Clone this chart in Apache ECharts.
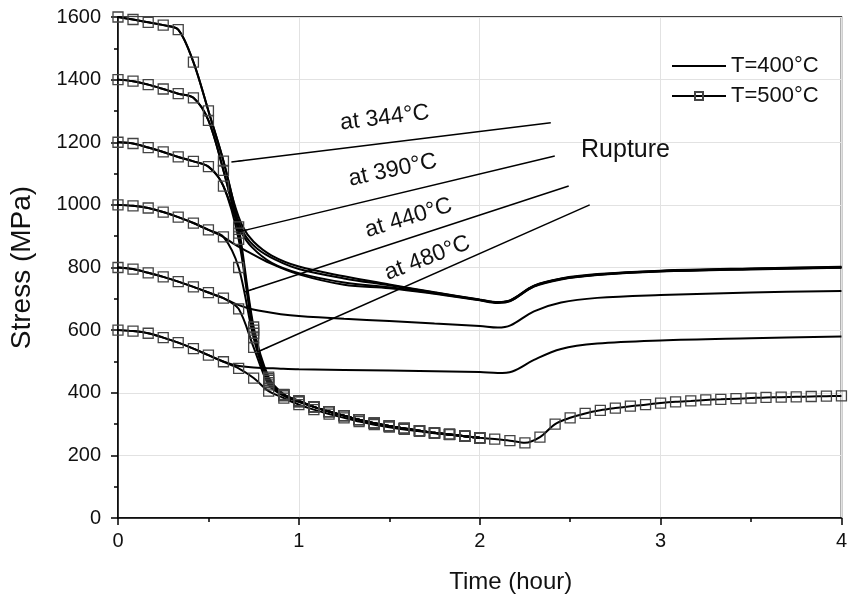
<!DOCTYPE html>
<html>
<head>
<meta charset="utf-8">
<script src="https://cdn.jsdelivr.net/npm/echarts@6/dist/echarts.min.js"></script>
<style>
html,body{margin:0;padding:0;background:#fff;}
#chart{width:850px;height:603px;}
</style>
</head>
<body>
<div id="chart"></div>
<script>
// ---- data ----
const xTicks = [0, 1, 2, 3, 4];
const yTicks = [0, 200, 400, 600, 800, 1000, 1200, 1400, 1600];

// time grid for T=500°C curves (hour)
const tGrid = [0, 0.083, 0.167, 0.25, 0.333, 0.417, 0.5, 0.583, 0.667, 0.75, 0.833, 0.917, 1,
  1.083, 1.167, 1.25, 1.333, 1.417, 1.5, 1.583, 1.667, 1.75, 1.833, 1.917, 2,
  2.083, 2.167, 2.25, 2.333, 2.417, 2.5, 2.583, 2.667, 2.75, 2.833, 2.917, 3,
  3.083, 3.167, 3.25, 3.333, 3.417, 3.5, 3.583, 3.667, 3.75, 3.833, 3.917, 4];

// T=500°C stress (MPa) at tGrid
const s500_600 = [600, 597, 590, 576, 560, 541, 520, 499, 478, 447, 405, 383, 362,
  346, 332, 320, 308, 298, 290, 283, 277, 271, 266, 261, 256,
  252, 247, 240, 258, 300, 320, 334, 344, 351, 357, 362, 367,
  371, 374, 377, 379, 381, 383, 385, 386, 387, 388, 389, 390];
const s500_800 = [800, 795, 783, 770, 755, 738, 720, 702, 668, 545, 425, 390, 371,
  355, 340, 327, 314, 303, 294, 286, 279, 272, 267, 261, 256];
const s500_1000 = [1000, 997, 990, 977, 961, 942, 920, 898, 800, 575, 432, 392, 372,
  355, 340, 327, 314, 303, 294, 286, 279, 272, 267, 261, 256];
const s500_1200 = [1200, 1196, 1183, 1169, 1153, 1139, 1122, 1060, 890, 590, 440, 393, 373,
  355, 340, 327, 314, 303, 294, 286, 279, 272, 267, 261, 256];
const s500_1400 = [1400, 1395, 1384, 1370, 1355, 1342, 1270, 1110, 910, 600, 445, 394, 374,
  355, 340, 327, 314, 303, 294, 286, 279, 272, 267, 261, 256];
const s500_1600 = [1600, 1592, 1583, 1574, 1560, 1456, 1300, 1140, 930, 610, 450, 395, 375,
  355, 340, 327, 314, 303, 294, 286, 279, 272, 267, 261, 256];

// T=400°C curves [time, stress]
const s400_1600 = [[0,1600],[0.083,1592],[0.167,1583],[0.25,1574],[0.333,1560],[0.417,1456],[0.5,1300],[0.583,1140],[0.64,1010],[0.69,930],[0.75,882],[0.85,838],[1.0,803],[1.25,772],[1.5,746],[1.75,721],[2.0,698],[2.1,690],[2.17,696],[2.3,742],[2.45,765],[2.65,779],[3.0,790],[3.5,797],[4.0,802]];
const s400_1400 = [[0,1400],[0.083,1395],[0.167,1384],[0.25,1370],[0.333,1355],[0.417,1342],[0.5,1270],[0.583,1110],[0.64,990],[0.7,905],[0.77,860],[0.87,825],[1.0,795],[1.25,765],[1.5,743],[1.75,720],[2.0,697],[2.1,689],[2.17,695],[2.3,741],[2.45,764],[2.65,778],[3.0,789],[3.5,796],[4.0,801]];
const s400_1200 = [[0,1200],[0.083,1196],[0.167,1183],[0.25,1169],[0.333,1153],[0.417,1139],[0.5,1122],[0.57,1075],[0.63,990],[0.68,915],[0.74,865],[0.85,815],[1.0,782],[1.25,752],[1.5,737],[1.75,718],[2.0,696],[2.1,688],[2.17,694],[2.3,740],[2.45,763],[2.65,777],[3.0,788],[3.5,795],[4.0,800]];
const s400_1000 = [[0,1000],[0.083,997],[0.167,990],[0.25,977],[0.333,961],[0.417,942],[0.5,920],[0.583,897],[0.65,872],[0.72,850],[0.84,814],[1.0,778],[1.25,745],[1.5,734],[1.75,716],[2.0,695],[2.1,687],[2.17,693],[2.3,739],[2.45,762],[2.65,776],[3.0,787],[3.5,794],[4.0,799]];
const s400_800 = [[0,800],[0.083,795],[0.167,783],[0.25,770],[0.333,755],[0.417,738],[0.5,720],[0.583,702],[0.65,684],[0.72,670],[0.8,660],[0.9,651],[1.0,645],[1.25,636],[1.5,629],[1.75,621],[2.0,613],[2.1,608],[2.17,615],[2.3,660],[2.45,688],[2.65,703],[3.0,712],[3.5,720],[4.0,725]];
const s400_600 = [[0,600],[0.083,597],[0.167,590],[0.25,576],[0.333,560],[0.417,541],[0.5,520],[0.583,500],[0.65,488],[0.75,481],[0.9,477],[1.0,475],[1.5,471],[2.0,466],[2.1,463],[2.18,468],[2.3,505],[2.45,540],[2.65,557],[3.0,567],[3.5,574],[4.0,580]];

// rupture arrows: [tail time, tail stress, tip time, tip stress]
const arrows = [
  [2.393, 1262, 0.627, 1137],
  [2.415, 1156, 0.660, 913],
  [2.492, 1060, 0.699, 722],
  [2.608, 1000, 0.770, 530]
];
// rupture labels: [text, time, stress, angle deg]
const ruptureLabels = [
  ['at 344°C', 1.475, 1278, 7],
  ['at 390°C', 1.519, 1111, 12],
  ['at 440°C', 1.607, 958, 17],
  ['at 480°C', 1.711, 830, 21]
];
const ruptureTitle = ['Rupture', 2.806, 1175];

// ---- chart ----
const FONT = "'Liberation Sans', Arial, sans-serif";
const chart = echarts.init(document.getElementById('chart'), null, {renderer: 'canvas'});

function s400(data) {
  return {
    name: 'T=400°C', type: 'line', data: data, smooth: 0.35, showSymbol: false, symbol: 'circle',
    lineStyle: {color: '#000', width: 2},
    itemStyle: {color: 'rgba(0,0,0,0)', borderWidth: 0},
    animation: false, z: 3
  };
}
function s500(values) {
  return {
    name: 'T=500°C', type: 'line', data: values.map((v, i) => [tGrid[i], v]), smooth: 0.3,
    symbol: 'rect', symbolSize: 10, showSymbol: true,
    lineStyle: {color: '#000', width: 2},
    itemStyle: {color: 'rgba(0,0,0,0)', borderColor: '#444', borderWidth: 1.3},
    animation: false, z: 4
  };
}

const series = [
  s400(s400_1600), s400(s400_1400), s400(s400_1200),
  s400(s400_1000), s400(s400_800), s400(s400_600),
  s500(s500_1600), s500(s500_1400), s500(s500_1200),
  s500(s500_1000), s500(s500_800), s500(s500_600)
];
series.push({
  type: 'line', data: [], silent: true, animation: false,
  markLine: {
    silent: true, animation: false,
    symbol: ['none', 'arrow'], symbolSize: [1, 13],
    lineStyle: {color: '#000', width: 1.5, type: 'solid'},
    label: {show: false},
    data: arrows.map(a => [{coord: [a[0], a[1]]}, {coord: [a[2], a[3]]}])
  }
});

const option = {
  backgroundColor: '#fff',
  animation: false,
  textStyle: {fontFamily: FONT},
  grid: {left: 118, right: 5, top: 17, bottom: 85, show: true, borderColor: '#000', borderWidth: 1.5, backgroundColor: 'transparent'},
  legend: {
    data: ['T=400°C', 'T=500°C'], orient: 'vertical', left: 666, top: 50,
    itemWidth: 54, itemHeight: 10, itemGap: 8,
    textStyle: {fontSize: 22, color: '#111', fontFamily: FONT}
  },
  xAxis: {
    type: 'value', min: xTicks[0], max: xTicks[xTicks.length - 1], interval: 1,
    name: 'Time (hour)', nameLocation: 'middle', nameGap: 52,
    nameTextStyle: {fontSize: 24, color: '#111', fontFamily: FONT, padding: [0, 0, 0, 62]},
    axisLine: {show: true, lineStyle: {color: '#000', width: 1.5}},
    axisTick: {show: true, inside: false, length: 7, lineStyle: {color: '#000', width: 1.5}},
    minorTick: {show: true, splitNumber: 2, length: 4, lineStyle: {color: '#000', width: 1.5}},
    splitLine: {show: true, lineStyle: {color: '#e2e2e2', width: 1}},
    axisLabel: {fontSize: 20, color: '#111', margin: 13, fontFamily: FONT, formatter: v => String(v)}
  },
  yAxis: {
    type: 'value', min: yTicks[0], max: yTicks[yTicks.length - 1], interval: 200,
    name: 'Stress (MPa)', nameLocation: 'middle', nameGap: 82, nameRotate: 90,
    nameTextStyle: {fontSize: 28, color: '#111', fontFamily: FONT},
    axisLine: {show: true, lineStyle: {color: '#000', width: 1.5}},
    axisTick: {show: true, inside: false, length: 7, lineStyle: {color: '#000', width: 1.5}},
    minorTick: {show: true, splitNumber: 2, length: 4, lineStyle: {color: '#000', width: 1.5}},
    splitLine: {show: true, lineStyle: {color: '#e2e2e2', width: 1}},
    axisLabel: {fontSize: 20, color: '#111', margin: 17, fontFamily: FONT, formatter: v => String(v)}
  },
  series: series
};
chart.setOption(option);

// annotation texts positioned from data coordinates
const graphics = ruptureLabels.map(l => {
  const p = chart.convertToPixel({gridIndex: 0}, [l[1], l[2]]);
  return {
    type: 'text', x: p[0], y: p[1], rotation: l[3] * Math.PI / 180, z: 10,
    style: {text: l[0], font: '23px ' + FONT, fill: '#111', align: 'center', verticalAlign: 'middle'}
  };
});
const rp = chart.convertToPixel({gridIndex: 0}, [ruptureTitle[1], ruptureTitle[2]]);
graphics.push({
  type: 'text', x: rp[0], y: rp[1], z: 10,
  style: {text: ruptureTitle[0], font: '25px ' + FONT, fill: '#111', align: 'center', verticalAlign: 'middle'}
});
chart.setOption({graphic: graphics});
</script>
</body>
</html>
